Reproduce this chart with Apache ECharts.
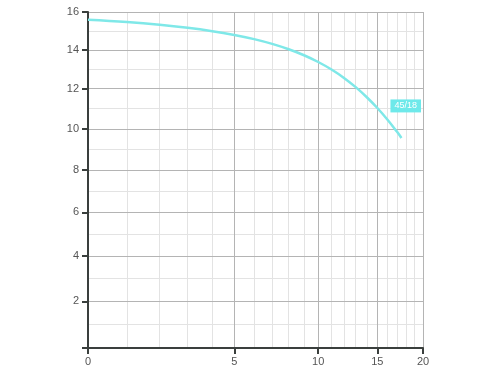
<!DOCTYPE html>
<html>
<head>
<meta charset="utf-8">
<script src="https://cdn.jsdelivr.net/npm/echarts@6/dist/echarts.min.js"></script>
<style>html,body{margin:0;padding:0;background:#fff}#c{width:500px;height:375px}</style>
</head>
<body>
<div id="c"></div>
<script>
// Data
const flow = [0, 1, 2, 3, 4, 5, 6, 7, 8, 9, 10, 11, 12, 13, 14, 15, 16, 17, 17.5];
const head = [15.58, 15.46, 15.32, 15.16, 14.98, 14.78, 14.56, 14.31, 14.03, 13.72, 13.37, 12.98, 12.55, 12.08, 11.57, 11.03, 10.46, 9.86, 9.55];
const seriesName = '45/18';
const xMajorTicks = [0, 5, 10, 15, 20];
const xMinorTicks = [1, 2, 3, 4, 6, 7, 8, 9, 11, 12, 13, 14, 16, 17, 18, 19];
const yMajorTicks = [0, 2, 4, 6, 8, 10, 12, 14, 16];
const yLabelTicks = [2, 4, 6, 8, 10, 12, 14, 16];
const yMinorTicks = [1, 3, 5, 7, 9, 11, 13, 15];

// nonlinear axis warps
const XC = 4.7, YC = 59;
const tx = v => Math.log(v + XC);
const ty = v => Math.log(v + YC);
const ix = u => Math.round(Math.exp(u) - XC);
const iy = u => Math.round(Math.exp(u) - YC);

const xMin = tx(0), xMax = tx(20), yMin = ty(0), yMax = ty(16);
const font = {color: '#555', fontSize: 11, fontFamily: 'Liberation Sans, Arial, sans-serif'};

const chart = echarts.init(document.getElementById('c'));
chart.setOption({
  animation: false,
  grid: {left: 88, right: 77, top: 12, bottom: 27},
  xAxis: [
    {
      type: 'value', min: xMin, max: xMax, position: 'bottom', z: 3,
      axisLine: {show: true, onZero: false, lineStyle: {color: '#3a3f3d', width: 2}},
      axisTick: {show: true, length: 6, customValues: xMajorTicks.map(tx), lineStyle: {color: '#3a3f3d', width: 2}},
      axisLabel: {show: true, customValues: xMajorTicks.map(tx), formatter: v => String(ix(v)), margin: 8, ...font},
      splitLine: {show: true, lineStyle: {color: '#b4b4b4', width: 1}}
    },
    {
      type: 'value', min: xMin, max: xMax, position: 'top', z: 1,
      axisLine: {show: false}, axisLabel: {show: false},
      axisTick: {show: false, customValues: xMinorTicks.map(tx)},
      splitLine: {show: true, lineStyle: {color: '#e3e3e3', width: 1}}
    }
  ],
  yAxis: [
    {
      type: 'value', min: yMin, max: yMax, position: 'left', z: 3,
      axisLine: {show: true, onZero: false, lineStyle: {color: '#3a3f3d', width: 2}},
      axisTick: {show: true, length: 6, customValues: yMajorTicks.map(ty), lineStyle: {color: '#3a3f3d', width: 2}},
      axisLabel: {show: true, customValues: yLabelTicks.map(ty), formatter: v => String(iy(v)), margin: 9, ...font},
      splitLine: {show: true, lineStyle: {color: '#b4b4b4', width: 1}}
    },
    {
      type: 'value', min: yMin, max: yMax, position: 'right', z: 1,
      axisLine: {show: false}, axisLabel: {show: false},
      axisTick: {show: false, customValues: yMinorTicks.map(ty)},
      splitLine: {show: true, lineStyle: {color: '#e3e3e3', width: 1}}
    }
  ],
  series: [{
    name: seriesName,
    type: 'line',
    xAxisIndex: 0, yAxisIndex: 0,
    smooth: 0.4,
    showSymbol: false,
    z: 5,
    lineStyle: {color: '#7fe8e8', width: 2.5},
    data: flow.map((f, i) => [tx(f), ty(head[i])]),
    endLabel: {
      show: true, formatter: seriesName, offset: [-19, -32],
      backgroundColor: '#6ee9ea', color: '#fff', fontSize: 9,
      fontFamily: 'Liberation Sans, Arial, sans-serif', padding: [2, 4]
    }
  }]
});
</script>
</body>
</html>
